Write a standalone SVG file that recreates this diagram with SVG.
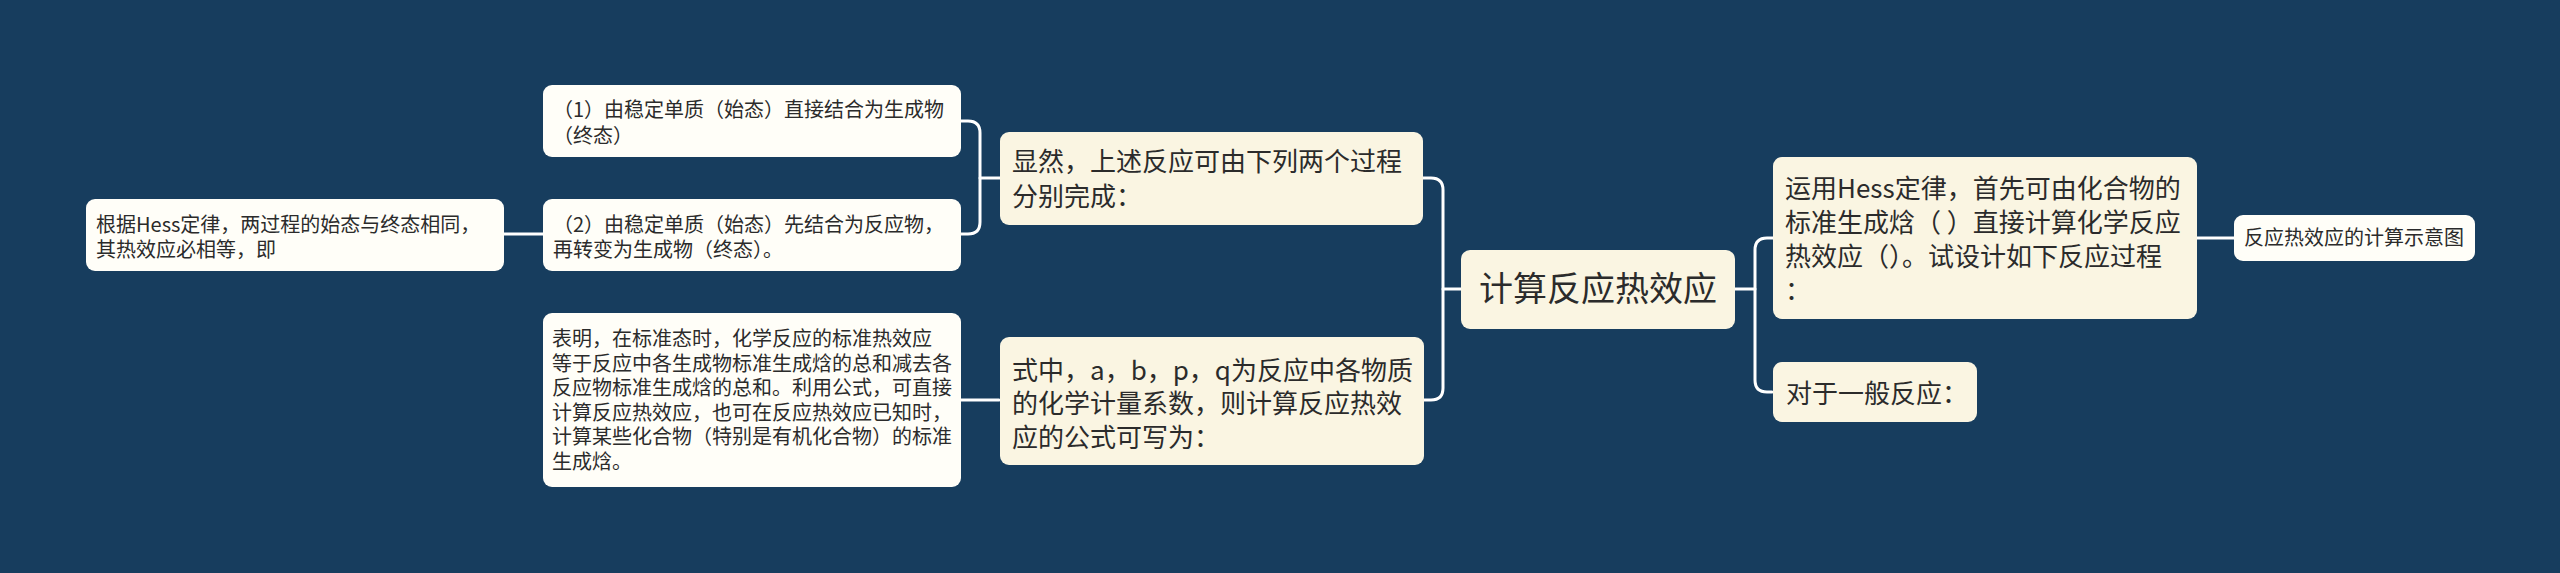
<svg xmlns="http://www.w3.org/2000/svg" width="2560" height="573" viewBox="0 0 2560 573">
<style>
.bg{fill:#173d5e}
.main{fill:#faf5e2}
.l1{fill:#faf5e2}
.leaf{fill:#fffef8}
.t{font-family:"Noto Sans CJK SC","Noto Sans",sans-serif;fill:#2b2b2b}
.tc{font-size:34px}
.t1{font-size:26px}
.t2{font-size:20px}
.t3{font-size:20px}
.c{fill:none;stroke:#ffffff;stroke-width:3;stroke-linecap:round;stroke-linejoin:round}
</style>
<rect class="bg" x="0" y="0" width="2560" height="573"/>
<g id="connectors">
<path class="c" d="M1461,289 H1443"/>
<path class="c" d="M1423,178 H1431 Q1443,178 1443,190 V388 Q1443,400 1431,400 H1424"/>
<path class="c" d="M1734,289 H1755"/>
<path class="c" d="M1773,238 H1767 Q1755,238 1755,250 V380 Q1755,392 1767,392 H1772"/>
<path class="c" d="M2197,238 H2234"/>
<path class="c" d="M1000,178 H980"/>
<path class="c" d="M961,121 H968 Q980,121 980,133 V222 Q980,234 968,234 H961"/>
<path class="c" d="M543,234 H504"/>
<path class="c" d="M999,400 H961"/>
</g>
<g id="n-root">
<rect class="main" x="1461" y="250" width="274" height="79" rx="9"/>
<text class="t tc" x="1598" y="301" text-anchor="middle">计算反应热效应</text>
</g>
<g id="n-xianran">
<rect class="l1" x="1000" y="132" width="423" height="93" rx="9"/>
<text class="t t1" x="1012" y="171">显然，上述反应可由下列两个过程</text>
<text class="t t1" x="1012" y="206">分别完成：</text>
</g>
<g id="n-shizhong">
<rect class="l1" x="1000" y="337" width="424" height="128" rx="9"/>
<text class="t t1" x="1012" y="380">式中，a，b，p，q为反应中各物质</text>
<text class="t t1" x="1012" y="413">的化学计量系数，则计算反应热效</text>
<text class="t t1" x="1012" y="447">应的公式可写为：</text>
</g>
<g id="n-yunyong">
<rect class="l1" x="1773" y="157" width="424" height="162" rx="9"/>
<text class="t t1" x="1785" y="198">运用Hess定律，首先可由化合物的</text>
<text class="t t1" x="1785" y="232">标准生成焓（ ）直接计算化学反应</text>
<text class="t t1" x="1785" y="266">热效应（）。试设计如下反应过程</text>
<text class="t t1" x="1785" y="300">：</text>
</g>
<g id="n-duiyu">
<rect class="l1" x="1773" y="362" width="204" height="60" rx="9"/>
<text class="t t1" x="1786" y="403">对于一般反应：</text>
</g>
<g id="n-shiyitu">
<rect class="leaf" x="2234" y="215" width="241" height="46" rx="9"/>
<text class="t t3" x="2244" y="245">反应热效应的计算示意图</text>
</g>
<g id="n-p1">
<rect class="leaf" x="543" y="85" width="418" height="72" rx="9"/>
<text class="t t2" x="553" y="117">（1）由稳定单质（始态）直接结合为生成物</text>
<text class="t t2" x="553" y="143">（终态）</text>
</g>
<g id="n-p2">
<rect class="leaf" x="543" y="199" width="418" height="72" rx="9"/>
<text class="t t2" x="553" y="232">（2）由稳定单质（始态）先结合为反应物，</text>
<text class="t t2" x="553" y="257">再转变为生成物（终态）。</text>
</g>
<g id="n-hess">
<rect class="leaf" x="86" y="199" width="418" height="72" rx="9"/>
<text class="t t2" x="96" y="232">根据Hess定律，两过程的始态与终态相同，</text>
<text class="t t2" x="96" y="257">其热效应必相等，即</text>
</g>
<g id="n-biaoming">
<rect class="leaf" x="543" y="313" width="418" height="174" rx="9"/>
<text class="t t2" x="552" y="346">表明，在标准态时，化学反应的标准热效应</text>
<text class="t t2" x="552" y="371">等于反应中各生成物标准生成焓的总和减去各</text>
<text class="t t2" x="552" y="395">反应物标准生成焓的总和。利用公式，可直接</text>
<text class="t t2" x="552" y="420">计算反应热效应，也可在反应热效应已知时，</text>
<text class="t t2" x="552" y="444">计算某些化合物（特别是有机化合物）的标准</text>
<text class="t t2" x="552" y="469">生成焓。</text>
</g>
</svg>
